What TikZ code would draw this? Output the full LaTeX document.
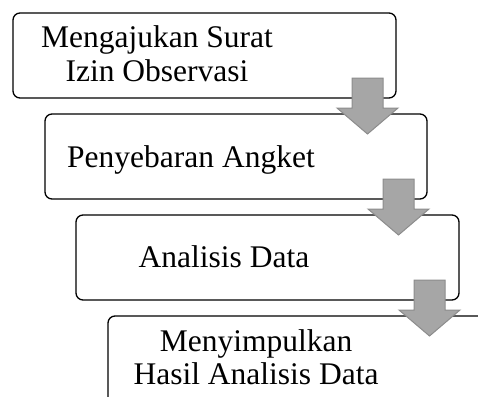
\documentclass[tikz,border=0pt]{standalone}
\usepackage{fontspec}
\setmainfont{Liberation Serif}
\begin{document}
\begin{tikzpicture}[x=1pt,y=-1pt,
  stepbox/.style={draw=black,line width=1.3pt,rounded corners=7pt},
  flowarrow/.style={fill=black!35,draw=black!45,line width=1pt,line join=miter},
  lbl/.style={font=\fontsize{31.5}{33}\selectfont,align=center,inner sep=0pt,anchor=base}]
\useasboundingbox (0,0) rectangle (478,396);
\begin{scope}
\clip (0,0) rectangle (478,396);
\draw[stepbox] (13,13) rectangle (396,98);
\draw[stepbox] (45,114) rectangle (427,199);
\draw[stepbox] (76,215) rectangle (459,300);
\draw[stepbox] (108,316) rectangle (520,430);
% arrows
\foreach \x/\y in {352/78, 383/179, 414/280}{
  \draw[flowarrow] (\x,\y) -- ++(31,0) -- ++(0,30) -- ++(15,0) -- ++(-30.5,26) -- ++(-30.5,-26) -- ++(15,0) -- cycle;
}
\end{scope}
\node[lbl] (t1) at (157,81) {Mengajukan Surat\\Izin Observasi};
\node[lbl] (t2) at (191,167) {Penyebaran Angket};
\node[lbl] (t3) at (224,267) {Analisis Data};
\node[lbl] (t4) at (256,384) {Menyimpulkan\\Hasil Analisis Data};
\end{tikzpicture}
\end{document}
